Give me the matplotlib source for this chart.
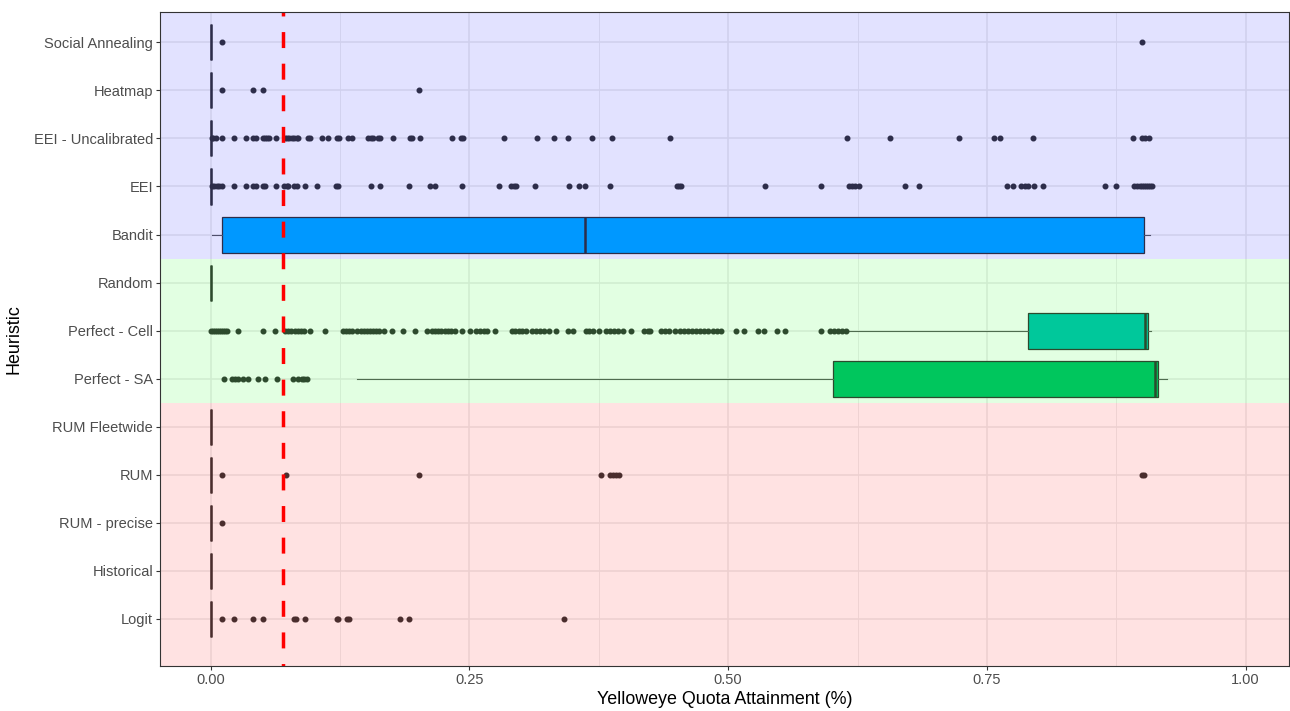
import matplotlib.pyplot as plt
import numpy as np

plt.rcParams['font.family'] = ['Liberation Sans', 'DejaVu Sans']

# heuristics, top row first
heuristics = ['Social Annealing', 'Heatmap', 'EEI - Uncalibrated', 'EEI', 'Bandit',
              'Random', 'Perfect - Cell', 'Perfect - SA', 'RUM Fleetwide', 'RUM',
              'RUM - precise', 'Historical', 'Logit']

# box statistics: whisker low, q1, median, q3, whisker high
whislo = [0, 0, 0, 0, 0.001, 0, 0.617, 0.1413, 0, 0, 0, 0, 0]
q1 = [0, 0, 0, 0, 0.0114, 0, 0.7896, 0.6015, 0, 0, 0, 0, 0]
med = [0, 0, 0, 0, 0.3616, 0, 0.9023, 0.912, 0, 0, 0, 0, 0]
q3 = [0, 0, 0, 0, 0.9014, 0, 0.906, 0.915, 0, 0, 0, 0, 0]
whishi = [0, 0, 0, 0, 0.9074, 0, 0.909, 0.924, 0, 0, 0, 0, 0]

fills = {'Bandit': '#00ACFF', 'Perfect - Cell': '#00C2AF', 'Perfect - SA': '#00BF6A'}

# outliers
out_social = [0.011, 0.9]
out_heatmap = [0.011, 0.041, 0.051, 0.201]
out_eei_unc = [0.0011, 0.0027, 0.005, 0.0114, 0.023, 0.034, 0.0413, 0.0439, 0.051, 0.0526,
               0.0548, 0.0564, 0.0632, 0.0719, 0.0735, 0.076, 0.0783, 0.0806, 0.0832, 0.0847,
               0.0937, 0.096, 0.1072, 0.1137, 0.1217, 0.1243, 0.133, 0.1368, 0.1523, 0.1545,
               0.157, 0.1619, 0.1635, 0.1757, 0.1925, 0.1947, 0.2021, 0.2333, 0.2414, 0.244,
               0.2832, 0.3153, 0.332, 0.3456, 0.3684, 0.3877, 0.4441, 0.6144, 0.6568, 0.7231,
               0.7566, 0.763, 0.7948, 0.8912, 0.9002, 0.9023, 0.9064]
out_eei = [0.0011, 0.0034, 0.006, 0.0076, 0.0114, 0.023, 0.034, 0.0413, 0.0439, 0.051,
           0.0526, 0.0632, 0.0709, 0.0735, 0.0751, 0.0806, 0.0832, 0.0912, 0.1027, 0.1211,
           0.1233, 0.1545, 0.1635, 0.1912, 0.2118, 0.2172, 0.243, 0.2787, 0.2906, 0.2931,
           0.2954, 0.3134, 0.3459, 0.3555, 0.362, 0.3861, 0.4501, 0.4522, 0.4543, 0.5355,
           0.5893, 0.617, 0.62, 0.6229, 0.6262, 0.6708, 0.6844, 0.7698, 0.7748, 0.7833,
           0.7868, 0.7897, 0.7953, 0.8045, 0.864, 0.8746, 0.892, 0.895, 0.898, 0.9, 0.902,
           0.904, 0.906, 0.908, 0.91]
out_cell = [0.0, 0.002, 0.004, 0.006, 0.008, 0.01, 0.012, 0.014, 0.016, 0.026, 0.051,
            0.0625, 0.072, 0.075, 0.078, 0.081, 0.084, 0.087, 0.09, 0.096, 0.1105, 0.128,
            0.131, 0.134, 0.137, 0.141, 0.145, 0.148, 0.151, 0.154, 0.157, 0.16, 0.163, 0.167,
            0.1748, 0.1854, 0.1973, 0.2086, 0.214, 0.217, 0.22, 0.223, 0.226, 0.229, 0.232,
            0.236, 0.243, 0.2504, 0.256, 0.26, 0.264, 0.267, 0.2745, 0.291, 0.294, 0.298,
            0.301, 0.305, 0.31, 0.314, 0.318, 0.322, 0.327, 0.334, 0.345, 0.35, 0.363, 0.366,
            0.369, 0.3748, 0.382, 0.386, 0.39, 0.394, 0.398, 0.4064, 0.4185, 0.4224, 0.4246,
            0.435, 0.439, 0.443, 0.449, 0.453, 0.457, 0.461, 0.465, 0.469, 0.473, 0.477,
            0.481, 0.485, 0.489, 0.493, 0.5074, 0.515, 0.5286, 0.535, 0.5468, 0.5553, 0.5893,
            0.598, 0.602, 0.606, 0.61, 0.614]
out_sa = [0.013, 0.0204, 0.0236, 0.0268, 0.0317, 0.0365, 0.0461, 0.0526, 0.0638, 0.0793,
          0.0847, 0.088, 0.0902, 0.0928]
out_rum = [0.0114, 0.0728, 0.2012, 0.3774, 0.386, 0.389, 0.392, 0.395, 0.9, 0.902]
out_rum_precise = [0.0114]
out_logit = [0.0114, 0.023, 0.0413, 0.051, 0.0806, 0.082, 0.0912, 0.1224, 0.1233, 0.132,
             0.1336, 0.1828, 0.1912, 0.341]

outliers = [out_social, out_heatmap, out_eei_unc, out_eei, [], [], out_cell, out_sa, [],
            out_rum, out_rum_precise, [], out_logit]

quota_line = 0.07

fig, ax = plt.subplots(figsize=(12.9, 7.11), dpi=100)
fig.subplots_adjust(left=0.124, right=0.9993, top=0.983, bottom=0.0633)

n = len(heuristics)
ypos = np.arange(n, 0, -1)

stats = []
for i, name in enumerate(heuristics):
    stats.append(dict(label=name, whislo=whislo[i], q1=q1[i], med=med[i], q3=q3[i],
                      whishi=whishi[i], fliers=outliers[i]))

bp = ax.bxp(stats, positions=ypos, widths=0.75, orientation='horizontal',
            showcaps=False, patch_artist=True,
            boxprops=dict(edgecolor='#333333', linewidth=0.9),
            whiskerprops=dict(color='#5a5a5a', linewidth=0.8),
            medianprops=dict(color='#333333', linewidth=1.8),
            flierprops=dict(marker='o', markersize=3.3, markerfacecolor='#333333',
                            markeredgecolor='#333333', linestyle='none'),
            zorder=2)
for patch, name in zip(bp['boxes'], heuristics):
    patch.set_facecolor(fills.get(name, 'white'))

ax.set_xlim(-0.049, 1.042)
ax.set_ylim(0.02, 13.63)

# group shading drawn over the boxes
ax.axhspan(8.5, 14, color='blue', alpha=0.114, lw=0, zorder=3)
ax.axhspan(5.5, 8.5, color='lime', alpha=0.114, lw=0, zorder=3)
ax.axhspan(-1, 5.5, color='red', alpha=0.114, lw=0, zorder=3)

ax.plot([quota_line, quota_line], [13.63, 0.02], color='red', lw=2.5,
        linestyle=(3.46, (4.6, 4.5)), zorder=4)

ax.set_yticks(ypos)
ax.set_yticklabels(heuristics)
ax.set_xticks([0, 0.25, 0.5, 0.75, 1.0])
ax.set_xticklabels(['0.00', '0.25', '0.50', '0.75', '1.00'])
ax.set_xticks([0.125, 0.375, 0.625, 0.875], minor=True)

ax.set_axisbelow(True)
ax.grid(which='major', color='#EBEBEB', linewidth=1.1)
ax.grid(which='minor', axis='x', color='#EBEBEB', linewidth=0.6)
ax.tick_params(which='major', length=3, width=0.8, color='#333333',
               labelsize=10.5, labelcolor='#4D4D4D', pad=2)
ax.tick_params(which='minor', length=0)

for s in ax.spines.values():
    s.set_color('#333333')
    s.set_linewidth(0.8)
    s.set_zorder(5)

ax.set_xlabel('Yelloweye Quota Attainment (%)', fontsize=12.9, labelpad=3)
ax.set_ylabel('Heuristic', fontsize=12.9, labelpad=8)

fig.savefig('out.png', dpi=100)
